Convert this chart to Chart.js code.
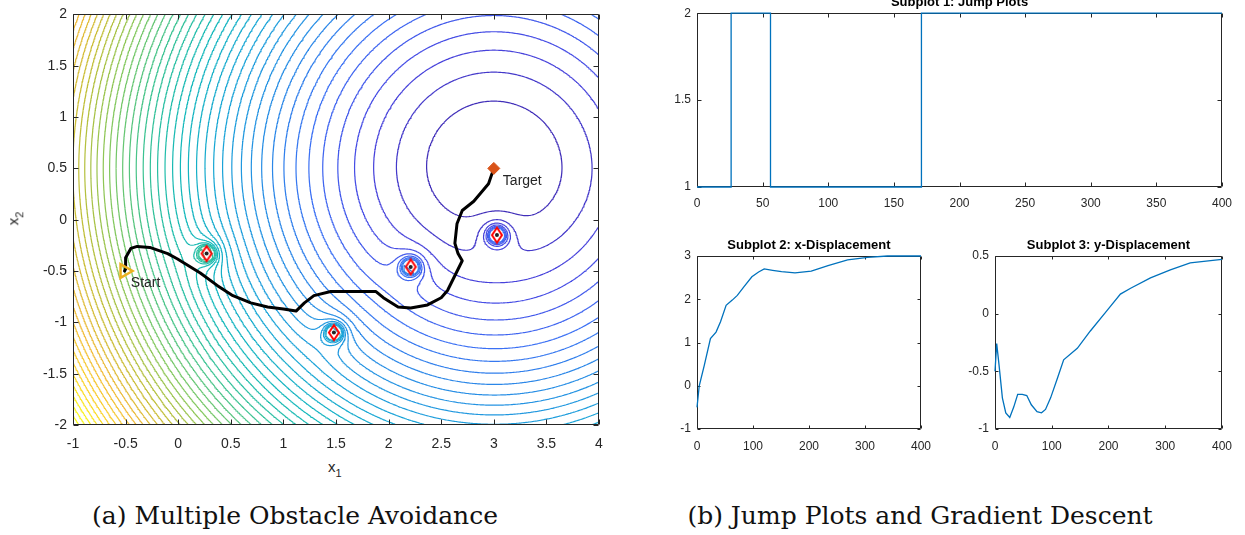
<!DOCTYPE html>
<html>
<head>
<meta charset="utf-8">
<script src="https://cdn.jsdelivr.net/npm/chart.js@4.4.1/dist/chart.umd.min.js"></script>
<style>
    body { margin: 0; background: #fff; width: 1245px; height: 535px; position: relative; overflow: hidden; font-family: "Liberation Sans", Arial, sans-serif; }
    canvas { position: absolute; }
    .lbl { position: absolute; color: #262626; font-size: 15px; line-height: 15px; white-space: nowrap; }
    .lbl sub { font-size: 11px; vertical-align: -5px; line-height: 0; }
    .cap { position: absolute; top: 501px; font-family: "DejaVu Serif", serif; font-size: 25px; color: #111; white-space: nowrap; transform: translateX(-50%); }
</style>
</head>
<body>
<canvas id="field"></canvas>
<canvas id="jumps"></canvas>
<canvas id="xdisp"></canvas>
<canvas id="ydisp"></canvas>
<div class="lbl" style="left:328px;top:459px">x<sub>1</sub></div>
<div class="lbl" style="left:6px;top:211px;transform:rotate(-90deg)">x<sub>2</sub></div>
<div class="cap" style="left:295px">(a) Multiple Obstacle Avoidance</div>
<div class="cap" style="left:920px">(b) Jump Plots and Gradient Descent</div>
<script>
// ---- values ----
var targetX = [3.0];
var targetY = [0.5];
var startX = [-0.51];
var startY = [-0.5];
var obstacleX = [0.27, 1.48, 2.21, 3.03];
var obstacleY = [-0.33, -1.10, -0.46, -0.15];
var obstacleGain = 0.014;
var obstacleCore = 0.005;
var levelStep = 0.445;
var levelTop = 24;
var colourTop = 21.5;

var pathX = [-0.51, -0.50, -0.50, -0.45, -0.39, -0.27, -0.10, -0.01, 0.21, 0.37, 0.52, 0.69, 0.85, 1.00, 1.12, 1.20, 1.29, 1.45, 1.72, 1.88, 1.95, 2.09, 2.21, 2.37, 2.50, 2.56, 2.70, 2.66, 2.63, 2.65, 2.70, 2.81, 2.95, 3.0];
var pathY = [-0.50, -0.48, -0.37, -0.28, -0.26, -0.27, -0.33, -0.38, -0.52, -0.64, -0.74, -0.81, -0.85, -0.87, -0.89, -0.81, -0.74, -0.70, -0.70, -0.70, -0.76, -0.85, -0.86, -0.83, -0.76, -0.69, -0.40, -0.33, -0.23, -0.04, 0.09, 0.18, 0.35, 0.5];

var jumpT = [0, 26, 56, 171, 400];
var jumpMode = [1, 2, 1, 2, 2];

var xDispT = [0, 4, 13, 24, 34, 42, 52, 63, 72, 84, 98, 110, 120, 135, 151, 175, 204, 234, 269, 305, 340, 400];
var xDispV = [-0.50, 0.0, 0.47, 1.09, 1.24, 1.48, 1.86, 1.98, 2.09, 2.29, 2.52, 2.63, 2.70, 2.67, 2.64, 2.61, 2.65, 2.78, 2.91, 2.97, 3.0, 3.0];

var yDispT = [0, 3, 7, 13, 19, 26, 33, 40, 48, 56, 64, 74, 82, 89, 98, 110, 121, 145, 168, 198, 221, 239, 274, 309, 344, 400];
var yDispV = [-0.50, -0.26, -0.44, -0.73, -0.86, -0.90, -0.81, -0.70, -0.70, -0.71, -0.79, -0.85, -0.86, -0.83, -0.73, -0.56, -0.40, -0.30, -0.15, 0.03, 0.17, 0.22, 0.31, 0.38, 0.44, 0.47];

var fieldXTicks = [-1, -0.5, 0, 0.5, 1, 1.5, 2, 2.5, 3, 3.5, 4];
var fieldYTicks = [-2, -1.5, -1, -0.5, 0, 0.5, 1, 1.5, 2];
var jumpXTicks = [0, 50, 100, 150, 200, 250, 300, 350, 400];
var jumpYTicks = [1, 1.5, 2];
var dispXTicks = [0, 100, 200, 300, 400];
var xDispYTicks = [-1, 0, 1, 2, 3];
var yDispYTicks = [-1, -0.5, 0, 0.5];

// ---- styling ----
var inkColour = 'rgb(38,38,38)';
var lineBlue = 'rgb(0,114,189)';
// [position, r, g, b] along a parula-like map
var parulaStops = [[0, 62, 38, 168], [0.07, 72, 70, 225], [0.14, 60, 110, 245], [0.22, 40, 140, 230],
    [0.32, 25, 165, 215], [0.42, 20, 185, 185], [0.52, 60, 195, 145], [0.62, 130, 200, 95],
    [0.72, 190, 190, 55], [0.82, 240, 185, 55], [0.91, 250, 210, 45], [1, 249, 251, 20]];

Chart.defaults.font.family = '"Liberation Sans", Arial, sans-serif';
Chart.defaults.color = inkColour;

function parula(f) {
    f = Math.max(0, Math.min(1, f));
    var i = 0;
    while (i < parulaStops.length - 2 && parulaStops[i + 1][0] < f) i++;
    var a = parulaStops[i], b = parulaStops[i + 1], t = (f - a[0]) / (b[0] - a[0]);
    return 'rgb(' + Math.round(a[1] + (b[1] - a[1]) * t) + ',' + Math.round(a[2] + (b[2] - a[2]) * t) + ',' + Math.round(a[3] + (b[3] - a[3]) * t) + ')';
}

// attractive bowl at the target plus repulsive bumps at the obstacles
function potential(x, y) {
    var v = (x - targetX[0]) * (x - targetX[0]) + (y - targetY[0]) * (y - targetY[0]);
    for (var k = 0; k < obstacleX.length; k++) {
        var d2 = (x - obstacleX[k]) * (x - obstacleX[k]) + (y - obstacleY[k]) * (y - obstacleY[k]);
        v += obstacleGain / Math.max(d2, obstacleCore);
    }
    return v;
}

// marching squares, one NaN-separated dataset per level
function contourSets() {
    var nx = 400, ny = 320, x0 = -1, x1 = 4, y0 = -2, y1 = 2;
    var dx = (x1 - x0) / nx, dy = (y1 - y0) / ny, w = nx + 1;
    var z = new Float64Array(w * (ny + 1));
    for (var j = 0; j <= ny; j++) {
        for (var i = 0; i <= nx; i++) {
            z[j * w + i] = potential(x0 + i * dx, y0 + j * dy);
        }
    }
    var nLev = Math.floor(levelTop / levelStep);
    var lines = [];
    for (var k = 0; k <= nLev; k++) lines.push([]);
    for (j = 0; j < ny; j++) {
        for (i = 0; i < nx; i++) {
            var a = z[j * w + i], b = z[j * w + i + 1], c = z[(j + 1) * w + i + 1], d = z[(j + 1) * w + i];
            var lo = Math.min(a, b, c, d), hi = Math.max(a, b, c, d);
            var k0 = Math.max(1, Math.ceil(lo / levelStep)), k1 = Math.min(nLev, Math.floor(hi / levelStep));
            if (k0 > k1) continue;
            var xa = x0 + i * dx, ya = y0 + j * dy;
            for (k = k0; k <= k1; k++) {
                var L = k * levelStep, pts = [];
                if ((a < L) !== (b < L)) pts.push({x: xa + dx * (L - a) / (b - a), y: ya});
                if ((b < L) !== (c < L)) pts.push({x: xa + dx, y: ya + dy * (L - b) / (c - b)});
                if ((c < L) !== (d < L)) pts.push({x: xa + dx * (1 - (L - c) / (d - c)), y: ya + dy});
                if ((d < L) !== (a < L)) pts.push({x: xa, y: ya + dy * (1 - (L - d) / (a - d))});
                var out = lines[k];
                for (var p = 0; p + 1 < pts.length; p += 2) {
                    out.push(pts[p], pts[p + 1], {x: NaN, y: NaN});
                }
            }
        }
    }
    var sets = [];
    for (k = 1; k <= nLev; k++) {
        if (!lines[k].length) continue;
        sets.push({
            data: lines[k], showLine: true, spanGaps: false,
            pointRadius: 0, pointHitRadius: 0, borderWidth: 1.2,
            borderColor: parula(k * levelStep / colourTop), order: 5
        });
    }
    return sets;
}

function diamondImage(w, h, stroke) {
    var c = document.createElement('canvas');
    c.width = w + 4; c.height = h + 4;
    var g = c.getContext('2d');
    g.strokeStyle = stroke; g.lineWidth = 2;
    g.beginPath();
    g.moveTo(c.width / 2, 2); g.lineTo(c.width - 2, c.height / 2);
    g.lineTo(c.width / 2, c.height - 2); g.lineTo(2, c.height / 2);
    g.closePath(); g.stroke();
    return c;
}

function zip(xs, ys) {
    return xs.map(function (v, i) { return {x: v, y: ys[i]}; });
}

// ---- MATLAB-like frame: box, inward ticks on all sides, title, notes ----
function drawFrame(chart, opts) {
    var a = chart.chartArea, ctx = chart.ctx, xs = chart.scales.x, ys = chart.scales.y, len = opts.tick;
    var L = Math.round(a.left) + 0.5, R = Math.round(a.right) - 0.5, T = Math.round(a.top) + 0.5, B = Math.round(a.bottom) - 0.5;
    ctx.save();
    ctx.strokeStyle = inkColour;
    ctx.lineWidth = 1;
    ctx.beginPath();
    ctx.rect(L, T, R - L, B - T);
    xs.ticks.forEach(function (t) {
        var p = Math.round(xs.getPixelForValue(t.value)) + 0.5;
        ctx.moveTo(p, B); ctx.lineTo(p, B - len);
        ctx.moveTo(p, T); ctx.lineTo(p, T + len);
    });
    ys.ticks.forEach(function (t) {
        var p = Math.round(ys.getPixelForValue(t.value)) + 0.5;
        ctx.moveTo(L, p); ctx.lineTo(L + len, p);
        ctx.moveTo(R, p); ctx.lineTo(R - len, p);
    });
    ctx.stroke();
    ctx.restore();
}

function drawTexts(chart, opts) {
    var a = chart.chartArea, ctx = chart.ctx;
    ctx.save();
    if (opts.title) {
        ctx.font = 'bold 13px "Liberation Sans", Arial, sans-serif';
        ctx.fillStyle = '#000';
        ctx.textAlign = 'center';
        ctx.textBaseline = 'alphabetic';
        ctx.fillText(opts.title, (a.left + a.right) / 2, a.top - 7);
    }
    (opts.notes || []).forEach(function (n) {
        ctx.font = '14px "Liberation Sans", Arial, sans-serif';
        ctx.fillStyle = inkColour;
        ctx.textAlign = 'left';
        ctx.textBaseline = 'middle';
        ctx.fillText(n.text, chart.scales.x.getPixelForValue(n.x), chart.scales.y.getPixelForValue(n.y));
    });
    ctx.restore();
}

var frame = {
    id: 'frame',
    beforeDatasetsDraw: function (chart, args, opts) {
        if (opts.under) drawFrame(chart, opts);
    },
    afterDatasetsDraw: function (chart, args, opts) {
        if (!opts.under) drawFrame(chart, opts);
        drawTexts(chart, opts);
    }
};

function axis(ticks, which, size, pad, fontSize) {
    return {
        type: 'linear', min: ticks[0], max: ticks[ticks.length - 1],
        grid: {display: false, drawTicks: false},
        border: {display: false},
        ticks: {
            padding: pad, autoSkip: false, maxRotation: 0, color: inkColour, font: {size: fontSize},
            callback: function (v) { return String(Math.round(v * 100) / 100); }
        },
        afterBuildTicks: function (s) {
            s.ticks = ticks.map(function (v) { return {value: v}; });
        },
        afterFit: function (s) {
            if (which === 'x') s.height = size; else s.width = size;
        }
    };
}

// plot = data rectangle in page pixels, pad = room round it inside the canvas
function makeChart(id, plot, pad, datasets, xTicks, yTicks, fontSize, xPad, frameOpts) {
    var c = document.getElementById(id);
    c.width = plot.r - plot.l + pad.l + pad.r;
    c.height = plot.b - plot.t + pad.t + pad.b;
    c.style.left = (plot.l - pad.l) + 'px';
    c.style.top = (plot.t - pad.t) + 'px';
    return new Chart(c, {
        type: 'scatter',
        data: {datasets: datasets},
        options: {
            responsive: false, animation: false, events: [],
            layout: {padding: {left: 0, top: pad.t, right: pad.r, bottom: 0}},
            scales: {
                x: axis(xTicks, 'x', pad.b, xPad, fontSize),
                y: axis(yTicks, 'y', pad.l, 6, fontSize)
            },
            plugins: {legend: {display: false}, tooltip: {enabled: false}, frame: frameOpts}
        },
        plugins: [frame]
    });
}

// (a) contour field with the descent path
var fieldSets = [
    {data: zip(obstacleX, obstacleY), pointStyle: 'circle', pointRadius: 2, pointBackgroundColor: '#222', pointBorderWidth: 0, order: 0},
    {data: zip(obstacleX, obstacleY), pointStyle: diamondImage(10, 15, 'rgb(255,0,0)'), pointRadius: 8, order: 1},
    {data: zip(targetX, targetY), pointStyle: 'rectRot', pointRadius: 6, pointBackgroundColor: 'rgb(217,83,25)', pointBorderColor: 'rgb(217,83,25)', pointBorderWidth: 1, order: 1},
    {data: zip(startX, startY), pointStyle: 'triangle', rotation: 90, pointRadius: 8, pointBackgroundColor: 'rgba(0,0,0,0)', pointBorderColor: 'rgb(237,177,32)', pointBorderWidth: 2.5, order: 1},
    {data: zip(pathX, pathY), showLine: true, pointRadius: 0, borderColor: '#000', borderWidth: 3, borderJoinStyle: 'round', borderCapStyle: 'round', order: 2}
].concat(contourSets());

makeChart('field', {l: 73, t: 13, r: 599, b: 425}, {l: 73, t: 13, r: 20, b: 32}, fieldSets,
    fieldXTicks, fieldYTicks, 14, 11,
    {tick: 5, under: false, notes: [{text: 'Start', x: -0.45, y: -0.62}, {text: 'Target', x: 3.086, y: 0.38}]});

// (b) jump plot and displacements
function traceSet(points, stepped) {
    return {data: points, showLine: true, stepped: stepped, pointRadius: 0, borderColor: lineBlue, borderWidth: 1.3, clip: false};
}

makeChart('jumps', {l: 697, t: 13, r: 1222, b: 187}, {l: 50, t: 13, r: 20, b: 28},
    [traceSet(zip(jumpT, jumpMode), 'before')], jumpXTicks, jumpYTicks, 12, 9,
    {tick: 4, under: true, title: 'Subplot 1: Jump Plots'});

makeChart('xdisp', {l: 697, t: 256, r: 923, b: 429}, {l: 50, t: 30, r: 18, b: 28},
    [traceSet(zip(xDispT, xDispV), false)], dispXTicks, xDispYTicks, 12, 10,
    {tick: 3, under: true, title: 'Subplot 2: x-Displacement'});

makeChart('ydisp', {l: 995, t: 256, r: 1222, b: 429}, {l: 50, t: 30, r: 20, b: 28},
    [traceSet(zip(yDispT, yDispV), false)], dispXTicks, yDispYTicks, 12, 10,
    {tick: 3, under: true, title: 'Subplot 3: y-Displacement'});
</script>
</body>
</html>
